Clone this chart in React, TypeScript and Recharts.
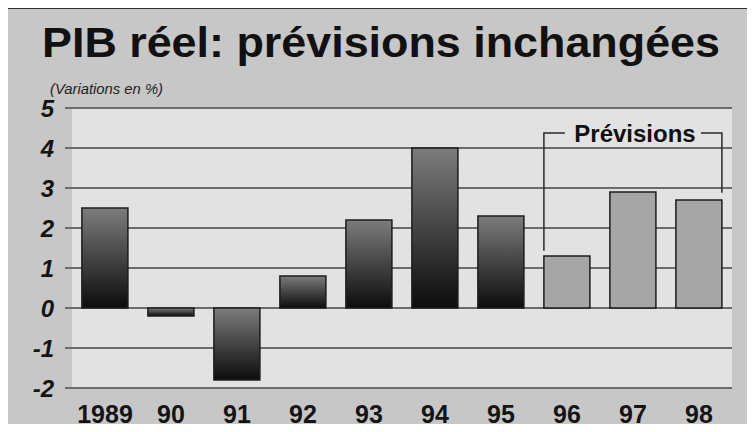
import React from "react";
import {
  BarChart,
  Bar,
  Cell,
  XAxis,
  YAxis,
  CartesianGrid,
  LabelList,
} from "recharts";

const YEARS = ["1989", "90", "91", "92", "93", "94", "95", "96", "97", "98"];
const GROWTH = [2.5, -0.2, -1.8, 0.8, 2.2, 4.0, 2.3, 1.3, 2.9, 2.7];
const FORECAST = [false, false, false, false, false, false, false, true, true, true];
const Y_TICKS = [-2, -1, 0, 1, 2, 3, 4, 5];

// forecast bracket, in value units
const BRACKET_TOP = 4.375;
const BRACKET_LEFT_END = 1.43;
const BRACKET_RIGHT_END = 2.88;
const BRACKET_ARM = 21;

const data = YEARS.map((year, i) => ({
  year,
  value: GROWTH[i],
  forecast: FORECAST[i],
}));

const FIRST_FC = FORECAST.indexOf(true);
const LAST_FC = FORECAST.lastIndexOf(true);

const FONT = '"Liberation Sans", Arial, Helvetica, sans-serif';
const GRID = "#6c6c6c";

// draws the "Prévisions" bracket from the first and last forecast bars
function Bracket(props: any) {
  const { x, y, width, height, index } = props;
  if (index !== FIRST_FC && index !== LAST_FC) return null;
  const v = GROWTH[index];
  const ppu = Math.abs(height) / Math.abs(v);
  const zero = v >= 0 ? y + height : y;
  const top = zero - BRACKET_TOP * ppu;
  if (index === FIRST_FC) {
    const bottom = zero - BRACKET_LEFT_END * ppu;
    return (
      <polyline
        points={`${x},${bottom} ${x},${top} ${x + BRACKET_ARM},${top}`}
        fill="none"
        stroke="#2a2a2a"
        strokeWidth={1.5}
      />
    );
  }
  const right = x + width;
  const bottom = zero - BRACKET_RIGHT_END * ppu;
  return (
    <polyline
      points={`${right - BRACKET_ARM},${top} ${right},${top} ${right},${bottom}`}
      fill="none"
      stroke="#2a2a2a"
      strokeWidth={1.5}
    />
  );
}

export default function App() {
  return (
    <div
      style={{
        position: "relative",
        width: 755,
        height: 432,
        margin: -8,
        background: "#c7c7c7",
        fontFamily: FONT,
        overflow: "hidden",
      }}
    >
      <svg
        width={755}
        height={432}
        style={{ position: "absolute", left: 0, top: 0 }}
      >
        <rect x={0} y={0} width={755} height={8} fill="#dadada" />
        <rect x={0} y={0} width={5} height={432} fill="#dadada" />
        <line x1={5} y1={8} x2={755} y2={8} stroke="#2e2e2e" strokeWidth={2} />
        <line x1={5} y1={8} x2={5} y2={432} stroke="#2e2e2e" strokeWidth={2} />
        <text
          x={42}
          y={57}
          fontSize={42}
          fontWeight="bold"
          fill="#111"
          fontFamily={FONT}
          textLength={678}
          lengthAdjust="spacingAndGlyphs"
        >
          PIB réel: prévisions inchangées
        </text>
        <text
          x={50}
          y={94}
          fontSize={15}
          fontStyle="italic"
          fill="#222"
          fontFamily={FONT}
          textLength={113}
          lengthAdjust="spacingAndGlyphs"
        >
          (Variations en %)
        </text>
      </svg>
      <div style={{ position: "absolute", left: 0, top: 0 }}>
        <BarChart
          width={755}
          height={432}
          data={data}
          margin={{ top: 108, right: 23, bottom: 0, left: 0 }}
          barCategoryGap="15%"
        >
          <defs>
            <linearGradient id="actualFill" x1="0" y1="0" x2="0" y2="1">
              <stop offset="0%" stopColor="#7c7c7c" />
              <stop offset="100%" stopColor="#0c0c0c" />
            </linearGradient>
          </defs>
          <CartesianGrid
            vertical={false}
            stroke={GRID}
            strokeWidth={2}
            fill="#e2e2e2"
          />
          <XAxis
            dataKey="year"
            height={44}
            axisLine={false}
            tickLine={false}
            tickSize={0}
            tickMargin={17}
            interval={0}
            tick={{ fontSize: 25, fontWeight: "bold", fill: "#141414", fontFamily: FONT }}
          />
          <YAxis
            width={72}
            domain={[-2, 5]}
            ticks={Y_TICKS}
            interval={0}
            axisLine={false}
            tickSize={7}
            tickMargin={11}
            tickLine={{ stroke: GRID, strokeWidth: 2 }}
            tick={{
              fontSize: 24,
              fontWeight: "bold",
              fontStyle: "italic",
              fill: "#141414",
              fontFamily: FONT,
            }}
          />
          <Bar dataKey="value" isAnimationActive={false} stroke="#1c1c1c" strokeWidth={1.5}>
            {data.map((d) => (
              <Cell key={d.year} fill={d.forecast ? "#a6a6a6" : "url(#actualFill)"} />
            ))}
            <LabelList dataKey="value" content={Bracket} />
          </Bar>
        </BarChart>
      </div>
      <svg
        width={755}
        height={432}
        style={{ position: "absolute", left: 0, top: 0, pointerEvents: "none" }}
      >
        <text
          x={635}
          y={142}
          fontSize={24}
          fontWeight="bold"
          fill="#111"
          fontFamily={FONT}
          textAnchor="middle"
        >
          Prévisions
        </text>
      </svg>
    </div>
  );
}
